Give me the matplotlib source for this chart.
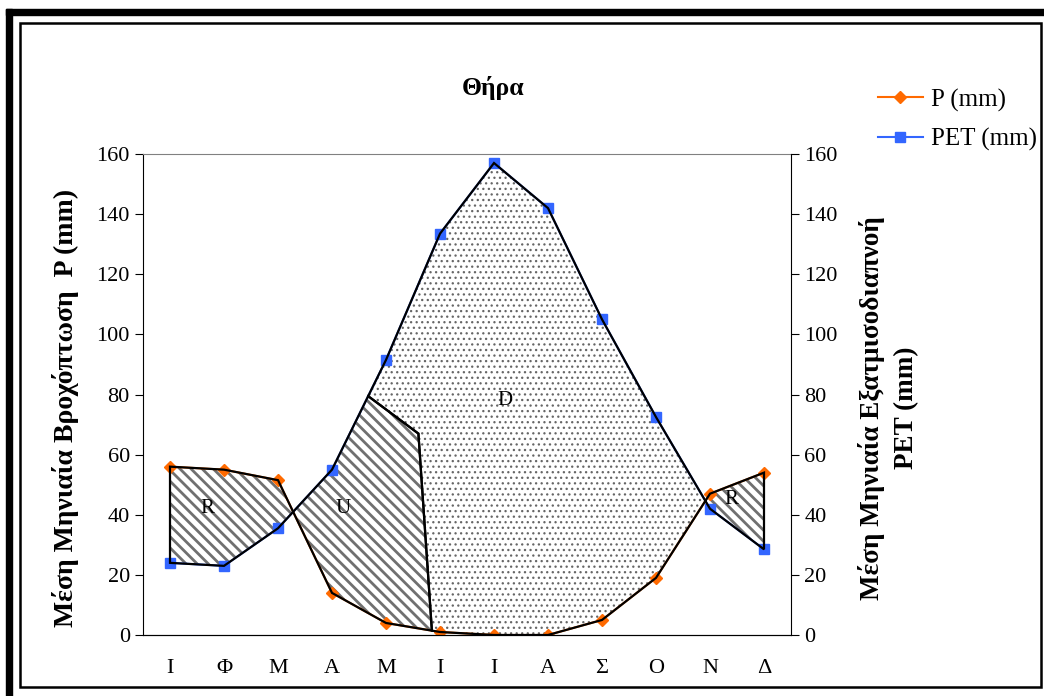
import numpy as np
import matplotlib
matplotlib.use('Agg')
from matplotlib import pyplot as plt
from matplotlib.patches import Rectangle, Polygon

plt.rcParams['font.family'] = ['Liberation Serif', 'DejaVu Serif']
plt.rcParams['hatch.linewidth'] = 2.0

months = ['Ι', 'Φ', 'Μ', 'Α', 'Μ', 'Ι', 'Ι', 'Α', 'Σ', 'Ο', 'Ν', 'Δ']
p_mm = [56, 55, 51.5, 14, 4, 1, 0, 0, 5, 19, 47, 54]
pet_mm = [24, 23, 35.5, 55, 91.5, 133.5, 157, 142, 105, 72.5, 42, 28.5]

# hand drawn border between U (soil water use) and D (deficit)
split_x = [3.67, 4.6, 4.85]
split_mid_y = 67

region_names = ['R', 'U', 'D', 'R']
region_label_x = [0.7, 3.2, 6.2, 10.4]
region_label_y = [42, 42, 78, 45]

x = np.arange(len(months))
p = np.array(p_mm, dtype=float)
pet = np.array(pet_mm, dtype=float)


def crossing(i):
	d0 = p[i] - pet[i]
	d1 = p[i+1] - pet[i+1]
	return i + d0 / (d0 - d1)


def trace(series, x0, x1):
	inner = [i for i in x if min(x0, x1) < i < max(x0, x1)]
	if x0 > x1:
		inner = inner[::-1]
	xs = [x0] + inner + [x1]
	return [(xx, np.interp(xx, x, series)) for xx in xs]


c1 = crossing(2)
c2 = crossing(9)
u_top, u_bot = split_x[0], split_x[2]

r1 = trace(p, 0, c1) + trace(pet, c1, 0)
u = trace(pet, c1, u_top) + [(split_x[1], split_mid_y)] + trace(p, u_bot, c1)
d = trace(pet, u_top, c2) + trace(p, c2, u_bot) + [(split_x[1], split_mid_y)]
r2 = trace(p, c2, 11) + trace(pet, 11, c2)

fig = plt.figure(figsize=(10.44, 6.96), dpi=100)
ax = fig.add_axes([143/1044, 1-635/696, 648/1044, 481/696])

stripes = '\\\\\\'
for poly, hatch, hcol, hlw in [(r1, stripes, '#707070', 2.0), (u, stripes, '#707070', 2.0),
		(r2, stripes, '#707070', 2.0), (d, '...', '#666666', 0.9)]:
	patch = Polygon(poly, closed=True, facecolor='white', edgecolor=hcol, hatch=hatch, linewidth=0, zorder=1)
	if hasattr(patch, 'set_hatch_linewidth'):
		patch.set_hatch_linewidth(hlw)
	ax.add_patch(patch)
	ax.add_patch(Polygon(poly, closed=True, fill=False, edgecolor='black', linewidth=1.6, zorder=3))

ax.plot(x, p, color='#ff6a00', marker='D', markersize=6.5, linewidth=1.5, label='P (mm)', zorder=2)
ax.plot(x, pet, color='#3366ff', marker='s', markersize=7, linewidth=1.5, label='PET (mm)', zorder=2)

for name, lx, ly in zip(region_names, region_label_x, region_label_y):
	ax.text(lx, ly, name, fontsize=15, ha='center', va='center', zorder=4)

ax.set_xlim(-0.5, 11.5)
ax.set_ylim(0, 160)
ax.set_yticks(range(0, 161, 20))
ax.set_xticks(x)
ax.set_xticklabels(months, fontsize=16)
ax.tick_params(axis='x', length=0, pad=17)
ax.tick_params(axis='y', labelsize=16, length=6, direction='out')
ax.spines['top'].set_color('#808080')
ax.spines['right'].set_visible(False)
ax.set_ylabel('Μέση Μηνιαία Βροχόπτωση  P (mm)', fontsize=20, fontweight='bold')
ax.yaxis.set_label_coords(-0.098, 0.472)

ax2 = ax.twinx()
ax2.set_ylim(0, 160)
ax2.set_yticks(range(0, 161, 20))
ax2.tick_params(axis='y', labelsize=16, length=6, direction='out')
ax2.spines['top'].set_visible(False)
ax2.spines['left'].set_visible(False)
ax2.set_ylabel('Μέση Μηνιαία Εξατμισοδιαπνοή\nPET (mm)', fontsize=19.5, fontweight='bold', linespacing=1.5)
ax2.yaxis.set_label_coords(1.103, 0.472)

fig.text(493/1044, 1-88/696, 'Θήρα', fontsize=18.5, fontweight='bold', ha='center', va='center')

handles, labels = ax.get_legend_handles_labels()
fig.legend(handles, labels, loc='upper left', bbox_to_anchor=(855/1044, 1-66/696), frameon=False,
	fontsize=18, handlelength=1.8, labelspacing=0.65, handletextpad=0.35)

# page frame
fig.patches.append(Rectangle((6/1044, 1-15/696), 1038/1044, 6/696, transform=fig.transFigure, color='black'))
fig.patches.append(Rectangle((6/1044, 0), 6/1044, 1-9/696, transform=fig.transFigure, color='black'))
fig.patches.append(Rectangle((20/1044, 1-687/696), 1021/1044, 664/696, transform=fig.transFigure, fill=False, edgecolor='black', linewidth=1.8))

fig.savefig('out.png', dpi=100)
